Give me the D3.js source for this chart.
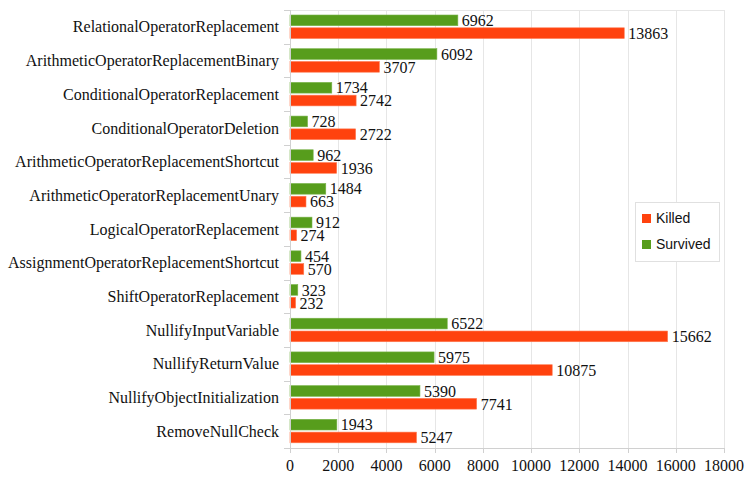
<!DOCTYPE html>
<html><head><meta charset="utf-8">
<script src="https://cdn.jsdelivr.net/npm/d3@7"></script>
<style>body{margin:0;background:#fff}svg{display:block}</style>
</head><body>
<svg id="c" width="747" height="482"></svg>
<script>
const categories = ["RelationalOperatorReplacement","ArithmeticOperatorReplacementBinary","ConditionalOperatorReplacement","ConditionalOperatorDeletion","ArithmeticOperatorReplacementShortcut","ArithmeticOperatorReplacementUnary","LogicalOperatorReplacement","AssignmentOperatorReplacementShortcut","ShiftOperatorReplacement","NullifyInputVariable","NullifyReturnValue","NullifyObjectInitialization","RemoveNullCheck"];
const killed = [13863,3707,2742,2722,1936,663,274,570,232,15662,10875,7741,5247];
const survived = [6962,6092,1734,728,962,1484,912,454,323,6522,5975,5390,1943];
const xTicks = [0,2000,4000,6000,8000,10000,12000,14000,16000,18000];
const seriesNames = ["Killed","Survived"];
const seriesColors = ["#ff420e","#579d1c"];

const svg = d3.select("#c");
const L=290, R=724, T=10, B=448;
const x = d3.scaleLinear().domain([0,18000]).range([L,R]);
const y = d3.scaleBand().domain(categories).range([T,B]);
const serif = "'Liberation Serif','Times New Roman',serif";
const fs = 16;

// grid
svg.append("g").selectAll("line").data(xTicks.slice(1)).join("line")
  .attr("x1",d=>Math.round(x(d))+0.5).attr("x2",d=>Math.round(x(d))+0.5).attr("y1",T).attr("y2",B)
  .attr("stroke","#e6e6e6").attr("stroke-width",1);
svg.append("line").attr("x1",L).attr("x2",R).attr("y1",T+0.5).attr("y2",T+0.5).attr("stroke","#e6e6e6");

// bars
const bh = 10.7;
const g = svg.append("g");
categories.forEach((c,i)=>{
  const y0 = y(c);
  g.append("rect").attr("x",x(0)).attr("y",y0+5).attr("width",x(survived[i])-x(0)).attr("height",bh)
    .attr("fill",seriesColors[1]).attr("stroke","#79b34a").attr("stroke-width",0.6);
  g.append("rect").attr("x",x(0)).attr("y",y0+17.8).attr("width",x(killed[i])-x(0)).attr("height",bh)
    .attr("fill",seriesColors[0]).attr("stroke","#ff7a52").attr("stroke-width",0.6);
  g.append("text").attr("x",x(survived[i])+4).attr("y",y0+10.4).attr("dy","0.35em")
    .attr("font-family",serif).attr("font-size",fs).attr("fill","#111").text(survived[i]);
  g.append("text").attr("x",x(killed[i])+4).attr("y",y0+23.4).attr("dy","0.35em")
    .attr("font-family",serif).attr("font-size",fs).attr("fill","#111").text(killed[i]);
});

// y axis
const ya = svg.append("g").attr("transform",`translate(${L},0)`);
ya.append("line").attr("x1",0.5).attr("x2",0.5).attr("y1",T).attr("y2",B).attr("stroke","#d0d0d0");
const seps = categories.map(c=>y(c)).concat([B]);
ya.selectAll(".sep").data(seps).join("line").attr("class","sep")
  .attr("x1",-6).attr("x2",0).attr("y1",d=>Math.round(d)+0.5).attr("y2",d=>Math.round(d)+0.5).attr("stroke","#d0d0d0");
ya.selectAll("text").data(categories).join("text")
  .attr("x",-11).attr("y",d=>y(d)+y.bandwidth()/2).attr("dy","0.35em").attr("text-anchor","end")
  .attr("font-family",serif).attr("font-size",fs).attr("fill","#111").text(d=>d);

// x axis
const xa = svg.append("g");
xa.append("line").attr("x1",L).attr("x2",R).attr("y1",B+0.5).attr("y2",B+0.5).attr("stroke","#d0d0d0");
xa.selectAll(".tk").data(xTicks).join("line").attr("class","tk")
  .attr("x1",d=>Math.round(x(d))+0.5).attr("x2",d=>Math.round(x(d))+0.5).attr("y1",B).attr("y2",B+5).attr("stroke","#d0d0d0");
xa.selectAll("text").data(xTicks).join("text")
  .attr("x",d=>x(d)).attr("y",465).attr("dy","0.35em").attr("text-anchor","middle")
  .attr("font-family",serif).attr("font-size",fs).attr("fill","#111").text(d=>d);

// legend
const lg = svg.append("g").attr("transform","translate(635,202)");
lg.append("rect").attr("x",0.5).attr("y",0.5).attr("width",84).attr("height",59).attr("fill","#fff").attr("stroke","#e0e0e0");
seriesNames.forEach((n,i)=>{
  lg.append("rect").attr("x",7).attr("y",12+i*26).attr("width",9).attr("height",9).attr("fill",seriesColors[i]);
  lg.append("text").attr("x",21).attr("y",16.5+i*26).attr("dy","0.35em")
    .attr("font-family","'Liberation Sans',Arial,sans-serif").attr("font-size",14).attr("fill","#111").text(n);
});
</script>
</body></html>
